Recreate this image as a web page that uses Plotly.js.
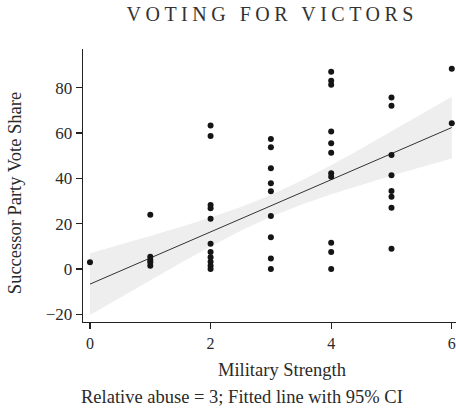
<!DOCTYPE html>
<html>
<head>
<meta charset="utf-8">
<script src="https://cdn.plot.ly/plotly-3.0.1.min.js"></script>
<style>
  html, body { margin: 0; padding: 0; background: #fff; }
  #chart { width: 456px; height: 411px; }
  .gtitle { letter-spacing: 4.5px; }
</style>
</head>
<body>
<div id="chart"></div>
<script>
// Observations: military strength (x) and successor party vote share (y)
const strength = [
  0,
  1, 1, 1, 1, 1,
  2, 2, 2, 2, 2, 2, 2, 2, 2, 2, 2,
  3, 3, 3, 3, 3, 3, 3, 3, 3,
  4, 4, 4, 4, 4, 4, 4, 4, 4, 4, 4,
  5, 5, 5, 5, 5, 5, 5, 5,
  6, 6
];
const voteShare = [
  3,
  24, 5.5, 4, 3, 1.5,
  63.3, 58.7, 28.3, 26.8, 22.2, 11.2, 7.6, 5.2, 3.2, 1.5, 0,
  57.3, 53.7, 44.5, 37.8, 34.3, 23.4, 14.1, 4.7, 0,
  87, 83, 81.3, 60.6, 55.5, 51.3, 42.2, 40.7, 11.6, 7.5, 0,
  75.6, 72, 50.3, 41.4, 34.4, 31.9, 27.1, 9,
  88.3, 64.3
];

// Fitted line and 95% CI band
const fitX     = [0, 0.5, 1, 1.5, 2, 2.5, 3, 3.5, 4, 4.5, 5, 5.5, 6];
const fitY     = [-6.6, -0.85, 4.9, 10.65, 16.4, 22.15, 27.9, 33.65, 39.4, 45.15, 50.9, 56.65, 62.4];
const ciUpper  = [7.0, 10.75, 14.65, 18.6, 22.8, 27.4, 32.7, 38.9, 45.8, 53.1, 60.65, 68.25, 76.0];
const ciLower  = [-20.2, -12.45, -4.85, 2.7, 10.0, 16.9, 23.1, 28.4, 33.0, 37.2, 41.15, 45.05, 48.8];

const xTicks = [0, 2, 4, 6];
const yTicks = [-20, 0, 20, 40, 60, 80];

const serif = "Liberation Serif, DejaVu Serif, serif";
const textColor = "#2a2a2a";

const traces = [
  {
    x: fitX, y: ciLower, type: "scatter", mode: "lines",
    line: { width: 0, color: "rgba(0,0,0,0)" },
    hoverinfo: "skip", showlegend: false
  },
  {
    x: fitX, y: ciUpper, type: "scatter", mode: "lines",
    fill: "tonexty", fillcolor: "#eeeeee",
    line: { width: 0, color: "rgba(0,0,0,0)" },
    hoverinfo: "skip", showlegend: false
  },
  {
    x: fitX, y: fitY, type: "scatter", mode: "lines",
    line: { width: 1, color: "#333333" },
    showlegend: false
  },
  {
    x: strength, y: voteShare, type: "scatter", mode: "markers",
    marker: { size: 6, color: "#151515" },
    showlegend: false
  }
];

const layout = {
  width: 456, height: 411,
  margin: { l: 83, r: 0, t: 49, b: 89, pad: 0 },
  paper_bgcolor: "#ffffff",
  plot_bgcolor: "#ffffff",
  font: { family: serif, size: 17, color: textColor },
  title: {
    text: "VOTING FOR VICTORS",
    font: { family: serif, size: 20, color: "#333333" },
    x: 0.597, xanchor: "center", y: 0.965, yanchor: "middle"
  },
  xaxis: {
    range: [-0.116, 6.07],
    tickvals: xTicks, ticktext: xTicks.map(String),
    showgrid: false, zeroline: false,
    showline: true, linecolor: "#222", linewidth: 1.3,
    ticks: "outside", ticklen: 6, tickcolor: "#222", tickwidth: 1.3,
    tickfont: { family: serif, size: 16, color: textColor }
  },
  yaxis: {
    range: [-23.3, 97],
    tickvals: yTicks, ticktext: yTicks.map(v => v < 0 ? "\u2212" + Math.abs(v) : String(v)),
    showgrid: false, zeroline: false,
    showline: true, linecolor: "#222", linewidth: 1.3,
    ticks: "outside", ticklen: 6, tickcolor: "#222", tickwidth: 1.3,
    tickfont: { family: serif, size: 17, color: textColor }
  },
  annotations: [
    {
      text: "Military Strength", xref: "paper", yref: "paper",
      x: (282 - 83) / 373, y: -(370 - 321.7) / 272.7,
      xanchor: "center", yanchor: "middle", showarrow: false,
      font: { family: serif, size: 18.5, color: textColor }
    },
    {
      text: "Relative abuse = 3; Fitted line with 95% CI", xref: "paper", yref: "paper",
      x: (242 - 83) / 373, y: -(397 - 321.7) / 272.7,
      xanchor: "center", yanchor: "middle", showarrow: false,
      font: { family: serif, size: 18.5, color: textColor }
    },
    {
      text: "Successor Party Vote Share", xref: "paper", yref: "paper",
      x: -(83 - 15) / 373, y: (321.7 - 193) / 272.7, textangle: -90,
      xanchor: "center", yanchor: "middle", showarrow: false,
      font: { family: serif, size: 18.5, color: textColor }
    }
  ]
};

Plotly.newPlot("chart", traces, layout, { displayModeBar: false, staticPlot: true });
</script>
</body>
</html>
